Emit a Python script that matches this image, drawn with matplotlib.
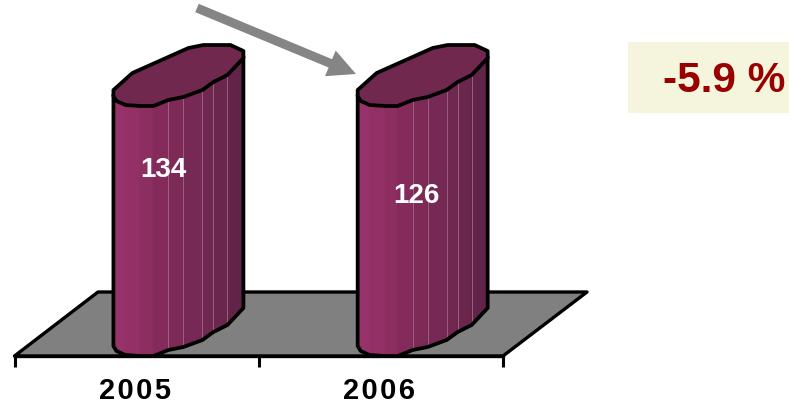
import matplotlib
matplotlib.use("Agg")
import matplotlib.pyplot as plt
from matplotlib.patches import Rectangle
import numpy as np

plt.rcParams['font.family'] = ['Liberation Sans', 'DejaVu Sans']

years = ['2005', '2006']
values = [134, 126]
change_text = '-5.9 %'
y_ceiling = 120  # the value axis stops here, taller columns are cut off

W, H = 789, 405
fig = plt.figure(figsize=(W / 100, H / 100), dpi=100)
base_px = 356
left_px, right_px = 14.5, 503
ax = fig.add_axes([left_px / W, (H - base_px) / H, (right_px - left_px) / W, base_px / H])

# axis limits in data units, one column slot per year
ax.set_xlim(0, len(years))
ax_px_per_unit = 250 / y_ceiling
ax.set_ylim(0, base_px / ax_px_per_unit)
ux = len(years) / (right_px - left_px)  # data units for one pixel
uy = 1 / ax_px_per_unit

# floor under the columns
floor_x = np.array([0, right_px - left_px, 587 - left_px, 98 - left_px]) * ux
floor_y = np.array([0, 0, 64, 64]) * uy
ax.fill(floor_x, floor_y, fc='#808080', ec='black', lw=2.4, clip_on=False, zorder=1, joinstyle='round')

# column outline, pixels from the front left foot
front_dx = np.array([0, 3, 12, 27, 40, 55, 70, 89, 100, 114, 130])
front_dy = np.array([10, 5, 1, 0, 0, 6, 9, 16, 24, 31, 48])
back_dx = np.array([130, 117, 90, 75, 19, 0])
back_dy = np.array([55, 61, 61, 58, 33, 16])
facet_cols = ['#9c3469', '#98326a', '#933065', '#8c2f60', '#842b5b', '#7e2a57',
              '#772955', '#712850', '#6b264c', '#612448']
line_at = [5, 6, 7, 8, 9]

for i, v in enumerate(values):
    x0 = i + 0.405
    h = min(v, y_ceiling)
    fx = x0 + front_dx * ux
    low = front_dy * uy
    top = h + front_dy * uy
    for k in range(len(facet_cols)):
        ax.fill([fx[k], fx[k + 1], fx[k + 1], fx[k]], [low[k], low[k + 1], top[k + 1], top[k]],
                fc=facet_cols[k], ec=facet_cols[k], lw=1.0, clip_on=False, zorder=3)
    for k in line_at:
        ax.plot([fx[k], fx[k]], [low[k], top[k]], color='#a5688c', lw=0.6, clip_on=False, zorder=3.1)
    # silhouette
    ax.plot(np.r_[fx[0], fx, fx[-1]], np.r_[top[0], low, top[-1]], color='black', lw=2.7,
            clip_on=False, zorder=4, solid_joinstyle='round')
    # top cap
    cap_x = np.r_[fx, x0 + back_dx * ux]
    cap_y = np.r_[top, h + back_dy * uy]
    ax.fill(cap_x, cap_y, fc='#70284f', ec='black', lw=2.7, clip_on=False, zorder=5, joinstyle='round')

# value labels
label_y = [89.2, 76.8]
label_x = [0.61, 1.645]
for x, y, v in zip(label_x, label_y, values):
    ax.text(x, y, str(v), color='white', fontsize=20, fontweight='bold', ha='center', va='center', zorder=6)

# axis with ticks between the years and labels in the middle
for s in ['top', 'left', 'right']:
    ax.spines[s].set_visible(False)
ax.spines['bottom'].set_linewidth(2.4)
ax.spines['bottom'].set_zorder(2)
ax.set_yticks([])
ax.set_xticks(range(len(years) + 1))
ax.set_xticklabels([])
ax.set_xticks([i + 0.493 for i in range(len(years))], minor=True)
ax.set_xticklabels(['\u200a'.join(y) for y in years], minor=True, fontsize=21, fontweight='bold')
ax.tick_params(axis='x', which='major', length=8, width=2.2)
ax.tick_params(axis='x', which='minor', length=0, pad=15)
ax.patch.set_alpha(0)

# grey arrow from one column to the next
ax.annotate('', xy=(356, H - 74), xytext=(197, H - 8), xycoords='figure pixels', textcoords='figure pixels',
            arrowprops=dict(facecolor='#858585', edgecolor='none', width=6.5, headwidth=20, headlength=20,
                            shrink=0), zorder=7, annotation_clip=False)

# change box on the right
fig.patches.append(Rectangle((628 / W, (H - 113) / H), 161 / W, 71 / H, transform=fig.transFigure,
                             fc='#f5f5de', ec='none', figure=fig))
fig.text(724 / W, (H - 81) / H, change_text, color='#990000', fontsize=30.5, fontweight='bold',
         ha='center', va='center')

fig.savefig('out.png', dpi=100)
